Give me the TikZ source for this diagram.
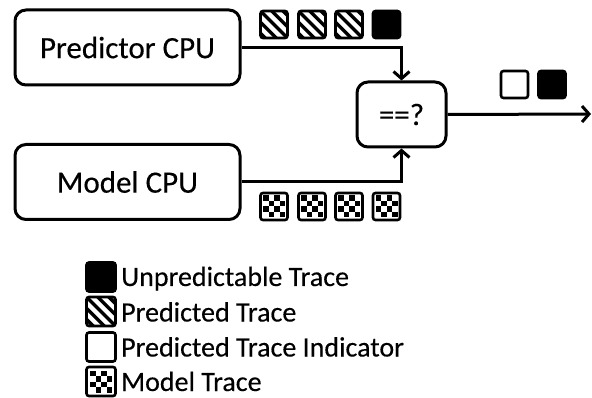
\documentclass[tikz,border=0pt]{standalone}
\usepackage{fontspec}
\setmainfont{Carlito}[FakeBold=0.3]
\usetikzlibrary{arrows.meta}

\tikzset{
  unit/.style={x=1pt,y=-1pt},
  cpubox/.style={draw,line width=3pt,rounded corners=11pt,
    minimum width=225pt,minimum height=75pt,inner sep=0pt,
    font=\fontsize{31}{37}\selectfont},
  cmpbox/.style={draw,line width=3pt,rounded corners=11pt,
    minimum width=89pt,minimum height=65pt,inner sep=0pt,
    font=\fontsize{31}{37}\selectfont},
  conn/.style={line width=3pt,-{Straight Barb[length=7pt,width=16pt]}},
  tracebase/.style={draw,line width=2.6pt,rounded corners=2.5pt,
    minimum size=27pt,inner sep=0pt},
  blacktrace/.style={tracebase,fill=black},
  emptytrace/.style={tracebase,fill=white},
  stripetrace/.style={tracebase,fill=white,
    path picture={
      \foreach \k in {-3,...,3}
        \draw[black,line width=3.4pt]
          ([shift={(\k*5.6pt,\k*5.6pt)}]path picture bounding box.center)
          ++(-22pt,22pt) -- ++(44pt,-44pt);
    }},
  checktrace/.style={tracebase,fill=white,
    path picture={
      \foreach \i/\j in {0/0,0/2,1/1,1/3,2/0,2/2,3/1,3/3}
        \fill[black,sharp corners]
          ([shift={(-11pt+\i*5.5pt,11pt-\j*5.5pt)}]path picture bounding box.center)
          rectangle ++(5.5pt,-5.5pt);
    }},
  legendbox/.style={minimum size=29pt},
  legendtext/.style={anchor=base west,inner sep=0pt,
    font=\fontsize{28}{33}\selectfont},
}

\begin{document}
\begin{tikzpicture}[unit]
  \useasboundingbox (0,0) rectangle (592,398);

  % processing blocks
  \node[cpubox] (pred)  at (127.5,47.5) {Predictor CPU};
  \node[cpubox] (model) at (127.5,182)  {Model CPU};
  \node[cmpbox] (cmp)   at (401.5,114.5) {==?};
  \coordinate (out) at (591,114);

  % connectors
  \draw[conn] (pred.east)  -| (cmp.north);
  \draw[conn] (model.east) -| (cmp.south);
  \draw[conn] (cmp.east) -- (out);

  % predictor trace stream
  \node[stripetrace] (p1) at (274,24.5) {};
  \node[stripetrace] (p2) at (312,24.5) {};
  \node[stripetrace] (p3) at (349,24.5) {};
  \node[blacktrace]  (p4) at (386.5,24.5) {};

  % model trace stream
  \node[checktrace] (m1) at (274,206.5) {};
  \node[checktrace] (m2) at (312,206.5) {};
  \node[checktrace] (m3) at (349,206.5) {};
  \node[checktrace] (m4) at (386.5,206.5) {};

  % comparison result stream
  \node[emptytrace] (o1) at (514.5,84.5) {};
  \node[blacktrace] (o2) at (552,84.5) {};

  % legend
  \node[blacktrace,legendbox]  (l1) at (101,277) {};
  \node[stripetrace,legendbox] (l2) at (101,311.5) {};
  \node[emptytrace,legendbox]  (l3) at (101,347) {};
  \node[checktrace,legendbox]  (l4) at (101,381.5) {};
  \node[legendtext] (t1) at (121,286) {Unpredictable Trace};
  \node[legendtext] (t2) at (121,321.5) {Predicted Trace};
  \node[legendtext] (t3) at (121,356.5) {Predicted Trace Indicator};
  \node[legendtext] (t4) at (121,391) {Model Trace};
\end{tikzpicture}
\end{document}
